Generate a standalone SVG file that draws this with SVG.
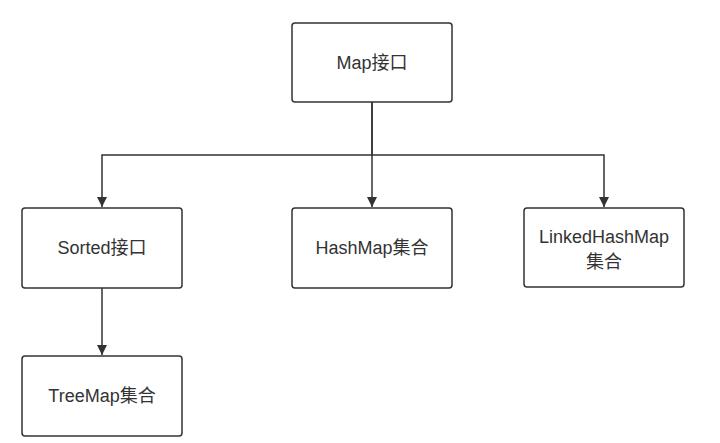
<svg xmlns="http://www.w3.org/2000/svg" width="720" height="443" viewBox="0 0 720 443">
<defs>
<marker id="arrow" viewBox="0 0 10 10" refX="10" refY="5" markerWidth="10" markerHeight="10" markerUnits="userSpaceOnUse" orient="auto">
<path d="M0,0 L10,5 L0,10 Z" fill="#333333"/>
</marker>
<style>
.box{fill:#ffffff;stroke:#333333;stroke-width:1.5}
.lbl{font-family:"Liberation Sans","Noto Sans CJK SC",sans-serif;font-size:18px;fill:#333333;text-anchor:middle}
.edge{fill:none;stroke:#333333;stroke-width:1.5}
</style>
</defs>
<rect width="720" height="443" fill="#ffffff"/>
<g id="connectors">
<path class="edge" d="M372,102 V155 H102 V207" marker-end="url(#arrow)"/>
<path class="edge" d="M372,102 V207" marker-end="url(#arrow)"/>
<path class="edge" d="M372,155 H604 V207" marker-end="url(#arrow)"/>
<path class="edge" d="M102,288 V355" marker-end="url(#arrow)"/>
</g>
<g id="map">
<rect class="box" x="292" y="23" width="160" height="79" rx="3"/>
<text class="lbl" x="372" y="69">Map接口</text>
</g>
<g id="sorted">
<rect class="box" x="22" y="208" width="160" height="80" rx="3"/>
<text class="lbl" x="102" y="254">Sorted接口</text>
</g>
<g id="hashmap">
<rect class="box" x="292" y="208" width="160" height="80" rx="3"/>
<text class="lbl" x="372" y="254">HashMap集合</text>
</g>
<g id="linkedhashmap">
<rect class="box" x="524" y="208" width="160" height="79" rx="3"/>
<text class="lbl" x="604" y="243">LinkedHashMap</text>
<text class="lbl" x="604" y="268">集合</text>
</g>
<g id="treemap">
<rect class="box" x="22" y="356" width="160" height="80" rx="3"/>
<text class="lbl" x="102" y="402">TreeMap集合</text>
</g>
</svg>
